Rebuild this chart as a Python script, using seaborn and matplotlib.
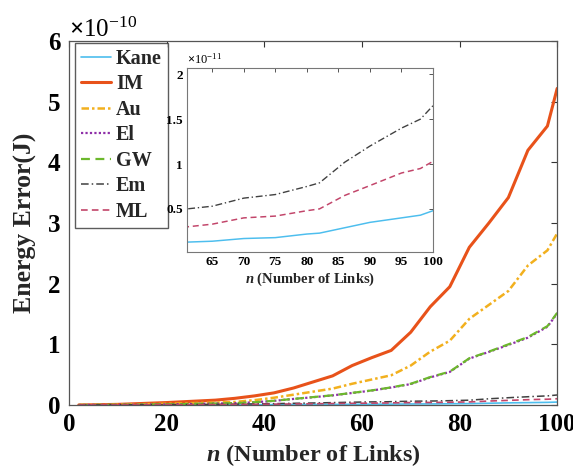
import numpy as np
import pandas as pd
import matplotlib
matplotlib.use("Agg")
import matplotlib.pyplot as plt
import seaborn as sns
from matplotlib.ticker import ScalarFormatter

# ---- data ----
# large-error methods, units of 1e-10 J
n_big = [2, 10, 20, 30, 34, 38, 42, 46, 50, 54, 58, 62, 66, 70, 74, 78, 82, 86, 90, 94, 98, 100]
im = [0.0, 0.01, 0.04, 0.08, 0.11, 0.15, 0.20, 0.28, 0.38, 0.48, 0.65, 0.78, 0.90, 1.20, 1.62, 1.95, 2.60, 3.00, 3.42, 4.20, 4.60, 5.22]
au = [0.0, 0.005, 0.02, 0.04, 0.05, 0.08, 0.12, 0.17, 0.22, 0.27, 0.35, 0.42, 0.49, 0.65, 0.88, 1.06, 1.42, 1.65, 1.88, 2.30, 2.55, 2.83]
gw = [0.0, 0.003, 0.01, 0.025, 0.03, 0.045, 0.07, 0.10, 0.13, 0.16, 0.20, 0.24, 0.29, 0.35, 0.46, 0.55, 0.77, 0.88, 1.00, 1.12, 1.30, 1.52]
el = [0.0, 0.003, 0.01, 0.024, 0.03, 0.044, 0.068, 0.10, 0.128, 0.158, 0.198, 0.238, 0.288, 0.345, 0.455, 0.545, 0.765, 0.875, 0.99, 1.11, 1.29, 1.51]
# small-error methods, units of 1e-11 J
n_small = [2, 10, 20, 30, 40, 50, 61, 65, 70, 75, 80, 82, 86, 90, 95, 98, 100]
kane = [0.0, 0.01, 0.02, 0.035, 0.05, 0.08, 0.13, 0.14, 0.17, 0.18, 0.22, 0.23, 0.29, 0.35, 0.40, 0.43, 0.48]
em = [0.0, 0.02, 0.05, 0.10, 0.20, 0.33, 0.50, 0.53, 0.62, 0.66, 0.75, 0.79, 1.02, 1.20, 1.40, 1.50, 1.65]
ml = [0.0, 0.01, 0.03, 0.06, 0.12, 0.20, 0.30, 0.33, 0.40, 0.42, 0.48, 0.50, 0.65, 0.76, 0.90, 0.95, 1.03]

main_xticks = [0, 20, 40, 60, 80, 100]
main_yticks = [0, 1, 2, 3, 4, 5, 6]
inset_xticks = [65, 70, 75, 80, 85, 90, 95, 100]
inset_yticks = [0.5, 1.0, 1.5, 2.0]

# ---- assemble ----
series = [
    ("Kane", n_small, kane, 1e-11),
    ("IM", n_big, im, 1e-10),
    ("Au", n_big, au, 1e-10),
    ("El", n_big, el, 1e-10),
    ("GW", n_big, gw, 1e-10),
    ("Em", n_small, em, 1e-11),
    ("ML", n_small, ml, 1e-11),
]
frames = []
for name, xs, ys, sc in series:
    frames.append(pd.DataFrame({"n": xs, "E": np.array(ys) * sc, "method": name}))
df = pd.concat(frames, ignore_index=True)

styles = {
    "Kane": dict(color="#4DBEEE", lw=1.2, ls="-"),
    "IM": dict(color="#E8521A", lw=2.2, ls="-"),
    "Au": dict(color="#F2B01E", lw=1.8, ls=(0, (3, 1.2, 1, 1.2))),
    "El": dict(color="#8E2FA8", lw=1.6, ls=(0, (1, 1))),
    "GW": dict(color="#6CB82C", lw=1.6, ls=(0, (4, 2.5))),
    "Em": dict(color="#404040", lw=1.1, ls=(0, (5, 2, 1, 2))),
    "ML": dict(color="#C2456A", lw=1.2, ls=(0, (4, 2.5))),
}


class GFormatter(ScalarFormatter):
    def _set_format(self):
        self.format = "%g"


sns.set_theme(style="white")
plt.rcParams["font.family"] = ["Liberation Serif", "DejaVu Serif"]
plt.rcParams["font.weight"] = "bold"
plt.rcParams["axes.labelweight"] = "bold"
plt.rcParams["mathtext.fontset"] = "custom"
plt.rcParams["mathtext.rm"] = "Liberation Serif"
plt.rcParams["mathtext.it"] = "Liberation Serif:italic:bold"
plt.rcParams["mathtext.bf"] = "Liberation Serif:bold"
plt.rcParams["axes.unicode_minus"] = True

fig = plt.figure(figsize=(5.73, 4.75), dpi=100)
ax = fig.add_axes([0.1204, 0.1474, 0.852, 0.766])

for name, _, _, _ in series:
    st = styles[name]
    sub = df[df["method"] == name]
    sns.lineplot(data=sub, x="n", y="E", ax=ax, color=st["color"], linewidth=st["lw"],
                 linestyle=st["ls"], label=name, estimator=None, sort=True)

ax.set_xlim(0, 100)
ax.set_ylim(0, 6e-10)
ax.set_xticks(main_xticks)
ax.set_yticks([v * 1e-10 for v in main_yticks])
fmt = GFormatter(useMathText=True)
fmt.set_powerlimits((0, 0))
ax.yaxis.set_major_formatter(fmt)
ax.tick_params(axis="both", which="major", direction="in", length=4, width=0.8,
               labelsize=18, top=True, right=True, pad=6, colors="#333333",
               labelcolor="black")
for lab in ax.get_xticklabels() + ax.get_yticklabels():
    lab.set_fontweight("bold")
ax.yaxis.get_offset_text().set_fontsize(18)
ax.yaxis.get_offset_text().set_fontweight("normal")
ax.set_xlabel(r"$n$ (Number of Links)", fontsize=17.5, fontweight="bold", labelpad=4)
ax.set_ylabel("Energy Error(J)", fontsize=18.5, fontweight="bold", labelpad=8)
for sp in ax.spines.values():
    sp.set_color("#555555")
    sp.set_linewidth(0.9)

leg = ax.legend(loc="upper left", bbox_to_anchor=(0.012, 0.995), frameon=True, fancybox=False,
                edgecolor="#333333", fontsize=14.5, handlelength=1.5, handletextpad=0.25,
                labelspacing=0.27, borderpad=0.3, borderaxespad=0.0)
leg.get_frame().set_linewidth(1.0)
for t in leg.get_texts():
    t.set_fontweight("bold")

# ---- inset ----
axi = fig.add_axes([0.3264, 0.4695, 0.4293, 0.3874])
for name in ["Kane", "Em", "ML"]:
    st = styles[name]
    sub = df[df["method"] == name]
    sns.lineplot(data=sub, x="n", y="E", ax=axi, color=st["color"], linewidth=st["lw"] * 0.9,
                 linestyle=st["ls"], legend=False, estimator=None, sort=True)
axi.set_xlim(61, 100)
axi.set_ylim(0.02e-11, 2.07e-11)
axi.set_xticks(inset_xticks)
axi.set_yticks([v * 1e-11 for v in inset_yticks])
fmti = GFormatter(useMathText=True)
fmti.set_powerlimits((0, 0))
axi.yaxis.set_major_formatter(fmti)
axi.tick_params(axis="both", which="major", direction="in", length=3, width=0.7,
                labelsize=9.5, top=True, right=True, pad=3, colors="#555555",
                labelcolor="black")
for lab in axi.get_xticklabels() + axi.get_yticklabels():
    lab.set_fontweight("bold")
axi.yaxis.get_offset_text().set_fontsize(9)
axi.yaxis.get_offset_text().set_fontweight("normal")
axi.set_xlabel(r"$n$ (Number of Links)", fontsize=10.5, fontweight="bold", labelpad=2)
axi.set_ylabel("")
for sp in axi.spines.values():
    sp.set_color("#777777")
    sp.set_linewidth(0.8)

fig.savefig("out.png", dpi=100)
